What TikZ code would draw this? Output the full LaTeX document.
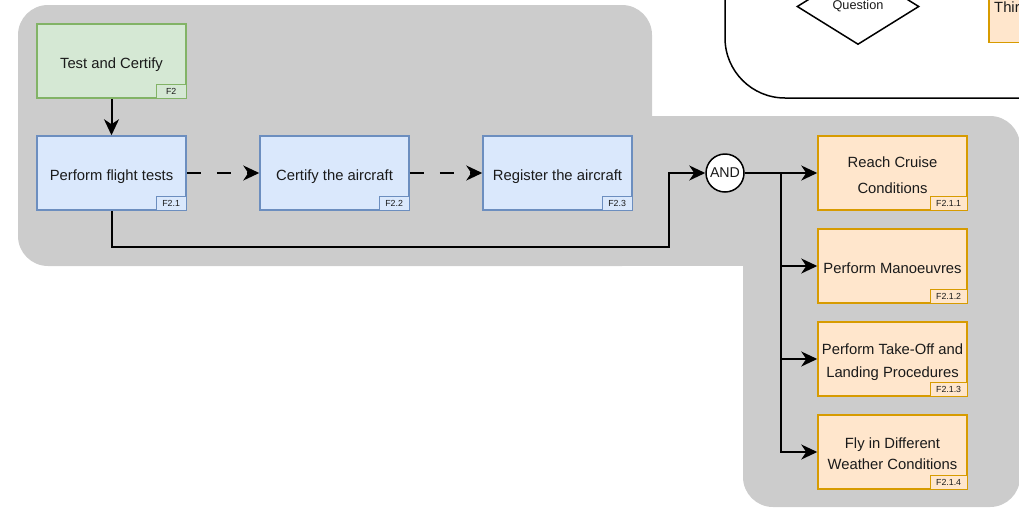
\documentclass[tikz,border=0pt]{standalone}
\usepackage{fontspec}
\setmainfont{Liberation Sans}
\usetikzlibrary{arrows.meta,shapes.geometric}
\definecolor{bggray}{HTML}{CCCCCC}
\definecolor{bluefill}{HTML}{DAE8FC}
\definecolor{bluedraw}{HTML}{6C8EBF}
\definecolor{greenfill}{HTML}{D5E8D4}
\definecolor{greendraw}{HTML}{82B366}
\definecolor{orangefill}{HTML}{FFE6CC}
\definecolor{orangedraw}{HTML}{D79B00}
\definecolor{txt}{HTML}{1A1A1A}
\newcommand\tstr{\rule{0pt}{17.2pt}}
\newcommand\bstr{\rule[-3.2pt]{0pt}{0pt}}
\begin{document}
\begin{tikzpicture}[x=1pt,y=-1pt,
  fbox/.style={minimum width=149pt, minimum height=74pt, inner sep=0pt, line width=1.5pt,
    align=center, text=txt, font=\fontsize{14.8}{17.8}\selectfont},
  bluebox/.style={fbox, draw=bluedraw, fill=bluefill},
  greenbox/.style={fbox, draw=greendraw, fill=greenfill},
  orangebox/.style={fbox, draw=orangedraw, fill=orangefill},
  tag/.style={anchor=south east, minimum height=14pt, inner sep=0pt, line width=1.2pt,
    text=txt, font=\fontsize{8.8}{10}\selectfont},
  bluetag/.style={tag, minimum width=30pt, draw=bluedraw, fill=bluefill},
  greentag/.style={tag, minimum width=30pt, draw=greendraw, fill=greenfill},
  orangetag/.style={tag, minimum width=37pt, draw=orangedraw, fill=orangefill},
  arr/.style={line width=2pt, -{Stealth[length=16pt,width=15pt,inset=5pt]}},
  dashedarr/.style={arr, dash pattern=on 14pt off 16pt}
]
\useasboundingbox (0,0) rectangle (1019,507);
\clip (0,0) rectangle (1019,507);

% gray background
\fill[bggray, rounded corners=30pt] (18,5) rectangle (652,266);
\fill[bggray, rounded corners=30pt] (743,116) rectangle (1020,507);
\fill[bggray] (600,116) rectangle (800,266);

% top-right legend box
\draw[line width=1.5pt, rounded corners=60pt] (725,-120) rectangle (1120,98);
\node[diamond, draw, line width=1.5pt, minimum width=122pt, minimum height=76pt, inner sep=0pt,
  text=txt, font=\fontsize{12.7}{15}\selectfont] (q) at (858,6.5) {Question};
\node[orangebox, anchor=south west] (thr) at (988,43) {};
\node[anchor=west, inner sep=0pt, text=txt, font=\fontsize{14.8}{17.8}\selectfont] (thrtxt) at (994,7) {Third};

% main nodes
\node[greenbox] (tc) at (111.5,61) {\tstr\bstr Test and Certify};
\node[greentag] (tct) at (tc.south east) {F2};
\node[bluebox] (pft) at (111.5,173) {\tstr\bstr Perform flight tests};
\node[bluetag] (pftt) at (pft.south east) {F2.1};
\node[bluebox] (cert) at (334.5,173) {\tstr\bstr Certify the aircraft};
\node[bluetag] (certt) at (cert.south east) {F2.2};
\node[bluebox] (reg) at (557.5,173) {\tstr\bstr Register the aircraft};
\node[bluetag] (regt) at (reg.south east) {F2.3};

\node[circle, draw, fill=white, minimum size=38pt, inner sep=0pt, line width=1.5pt,
  text=txt, font=\fontsize{14.2}{17}\selectfont] (and) at (725,173) {AND};

\node[orangebox] (o1) at (892.5,173) {\tstr Reach Cruise\\[8.2pt]Conditions\bstr};
\node[orangetag] (o1t) at (o1.south east) {F2.1.1};
\node[orangebox] (o2) at (892.5,266) {\tstr\bstr Perform Manoeuvres};
\node[orangetag] (o2t) at (o2.south east) {F2.1.2};
\node[orangebox] (o3) at (892.5,359) {\tstr Perform Take-Off and\\[5.7pt]Landing Procedures\bstr};
\node[orangetag] (o3t) at (o3.south east) {F2.1.3};
\node[orangebox] (o4) at (892.5,452) {\tstr Fly in Different\\[3.7pt]Weather Conditions\bstr};
\node[orangetag] (o4t) at (o4.south east) {F2.1.4};

% connectors
\draw[arr] (tc.south) -- (pft.north);
\draw[dashedarr] (pft.east) -- (cert.west);
\draw[dashedarr] (cert.east) -- (reg.west);
\draw[arr] (pft.south) |- (669,247) |- (and.west);
\draw[arr] (and.east) -- (o1.west);
\coordinate (br) at (781,173);
\draw[arr] (br) |- (o2.west);
\draw[arr] (br) |- (o3.west);
\draw[arr] (br) |- (o4.west);
\end{tikzpicture}
\end{document}
